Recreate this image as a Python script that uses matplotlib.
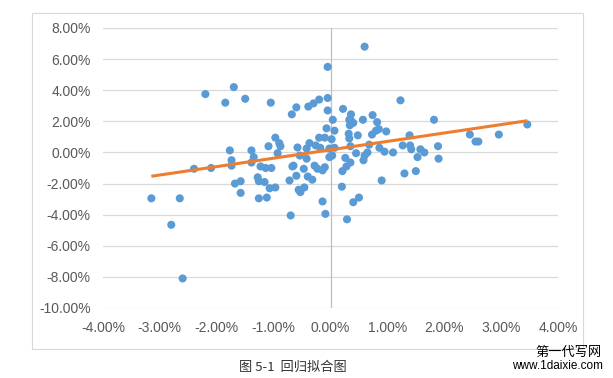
import matplotlib
matplotlib.use('Agg')
import matplotlib.pyplot as plt
import numpy as np
from matplotlib.patches import Rectangle
from matplotlib.ticker import FuncFormatter

# scatter values, in percent
x_vals = [0.6, -0.05, -2.2, -1.7, -1.85, -1.5, -1.05,
          -3.15, -2.65, -2.8, -2.6, -2.4, -2.1,
          -1.77, -1.74, -1.74, -1.68, -1.58, -1.58,
          -1.39, -1.35, -1.39, -1.23, -1.28, -1.26, -1.26, -1.16, -1.12, -1.14, -1.04, -1.07, -0.97,
          -1.09, -0.9, -0.93, -0.72, -0.7, -0.67, -0.65, -0.6, -0.56, -0.53, -0.46, -0.58, -0.47,
          -0.42, -0.4, -0.32, -0.28, -0.23, -0.14, -0.14, -0.09, -0.1, -0.42, -0.02, 0.03,
          -0.68, -0.6, -0.39, -0.3, -0.2, -0.05, -0.05, 0.04, 0.07, -0.07, -0.2, -0.1, 0.02,
          -0.97, -0.88, -0.37, -0.26, -0.18, -0.02, -0.54,
          0.22, 0.36, 0.36, 0.33, 0.4, 0.34, 0.57, 0.74, 0.82, 1.23, 0.85, 0.8, 0.73, 0.98,
          0.32, 0.33, 0.48, 0.07, 0.35, 0.68, 0.86, 0.95, 1.1, 1.27, 1.39, 1.4, 1.42, 1.58,
          1.65, 1.53, 1.82, 1.89, 1.9, 2.45, 2.55, 2.6, 2.96, 3.46, 0.45, 0.6, 0.65, 0.26,
          0.35, 0.28, 0.21, 0.2, 0.4, 0.5, 0.29, 0.58, 0.9, 1.3, 1.5]
y_vals = [6.8, 5.5, 3.75, 4.2, 3.2, 3.45, 3.2,
          -2.95, -2.95, -4.65, -8.1, -1.05, -1.0,
          0.13, -0.5, -0.85, -2.0, -1.85, -2.6,
          0.13, -0.3, -0.65, -0.9, -1.6, -1.85, -2.95, -1.9, -2.9, -1.0, -1.0, -2.3, -2.25,
          0.4, 0.6, -0.05, -1.8, -4.05, -0.9, -0.85, -1.5, -2.4, -2.55, -2.25, 0.32, -1.05,
          -0.4, -1.55, -1.75, -0.85, -1.05, -1.15, -3.15, -3.95, -0.95, 0.25, -0.3, -0.2,
          2.45, 2.9, 2.95, 3.15, 3.4, 3.5, 2.7, 2.1, 1.4, 1.55, 0.95, 0.95, 0.85,
          0.95, 0.4, 0.6, 0.45, 0.3, 0.25, -0.2,
          2.8, 2.45, 2.05, 2.1, 1.9, 1.75, 2.1, 2.4, 1.95, 3.35, 1.5, 1.4, 1.15, 1.35,
          1.2, 0.9, 1.1, 0.3, 0.4, 0.5, 0.3, 0.05, 0.0, 0.45, 1.1, 0.45, 0.2, 0.2,
          0.0, -0.3, 2.1, 0.4, -0.4, 1.15, 0.7, 0.7, 1.15, 1.8, -0.05, -0.2, 0.0, -0.35,
          -0.65, -0.9, -1.2, -2.2, -3.2, -2.9, -4.3, -0.5, -1.8, -1.35, -1.2]

# linear trend line (percent)
trend_slope = 0.54
trend_intercept = 0.17

x_ticks = [-4, -3, -2, -1, 0, 1, 2, 3, 4]
y_ticks = [-10, -8, -6, -4, -2, 0, 2, 4, 6, 8]

caption = '图 5-1  回归拟合图'

fig = plt.figure(figsize=(6.13, 3.78), dpi=100)
fig.patch.set_facecolor('white')

# light outer chart frame
fig.patches.append(Rectangle((32 / 613, 1 - 349 / 378), (583 - 32) / 613, (349 - 13) / 378,
                             transform=fig.transFigure, fill=False, ec='#d9d9d9', lw=0.8))

ax = fig.add_axes([103 / 613, 1 - 308 / 378, (558 - 103) / 613, (308 - 28) / 378])
ax.set_xlim(-4, 4)
ax.set_ylim(-10, 8)
ax.set_xticks(x_ticks)
ax.set_yticks(y_ticks)
pct = FuncFormatter(lambda v, p: '{:.2f}%'.format(v))
ax.xaxis.set_major_formatter(pct)
ax.yaxis.set_major_formatter(pct)
for sp in ax.spines.values():
    sp.set_visible(False)
ax.grid(axis='y', color='#d9d9d9', lw=0.9)
ax.set_axisbelow(True)
ax.axvline(0, color='#bfbfbf', lw=0.9, zorder=1)
ax.tick_params(length=0, labelsize=10, labelcolor='#595959', pad=9)
for lab in ax.get_xticklabels() + ax.get_yticklabels():
    lab.set_family('Liberation Sans')

ax.scatter(x_vals, y_vals, s=34, color='#5b9bd5', edgecolors='none', zorder=3)

tx = np.array([min(x_vals), max(x_vals)])
ax.plot(tx, trend_slope * tx + trend_intercept, color='#ed7d31', lw=2.2, zorder=4,
        solid_capstyle='butt')

fig.text(293 / 613, 1 - 367 / 378, caption, ha='center', va='center', fontsize=9.5,
         family=['Noto Sans CJK SC', 'DejaVu Sans'], color='#333333')
fig.text(602 / 613, 1 - 352 / 378, '第一代写网', ha='right', va='center', fontsize=9.5,
         family=['Noto Sans CJK SC', 'DejaVu Sans'], color='black')
fig.text(603 / 613, 1 - 366 / 378, 'www.1daixie.com', ha='right', va='center', fontsize=8.5,
         family=['Liberation Sans', 'DejaVu Sans'], color='black')

fig.savefig('out.png', dpi=100)
